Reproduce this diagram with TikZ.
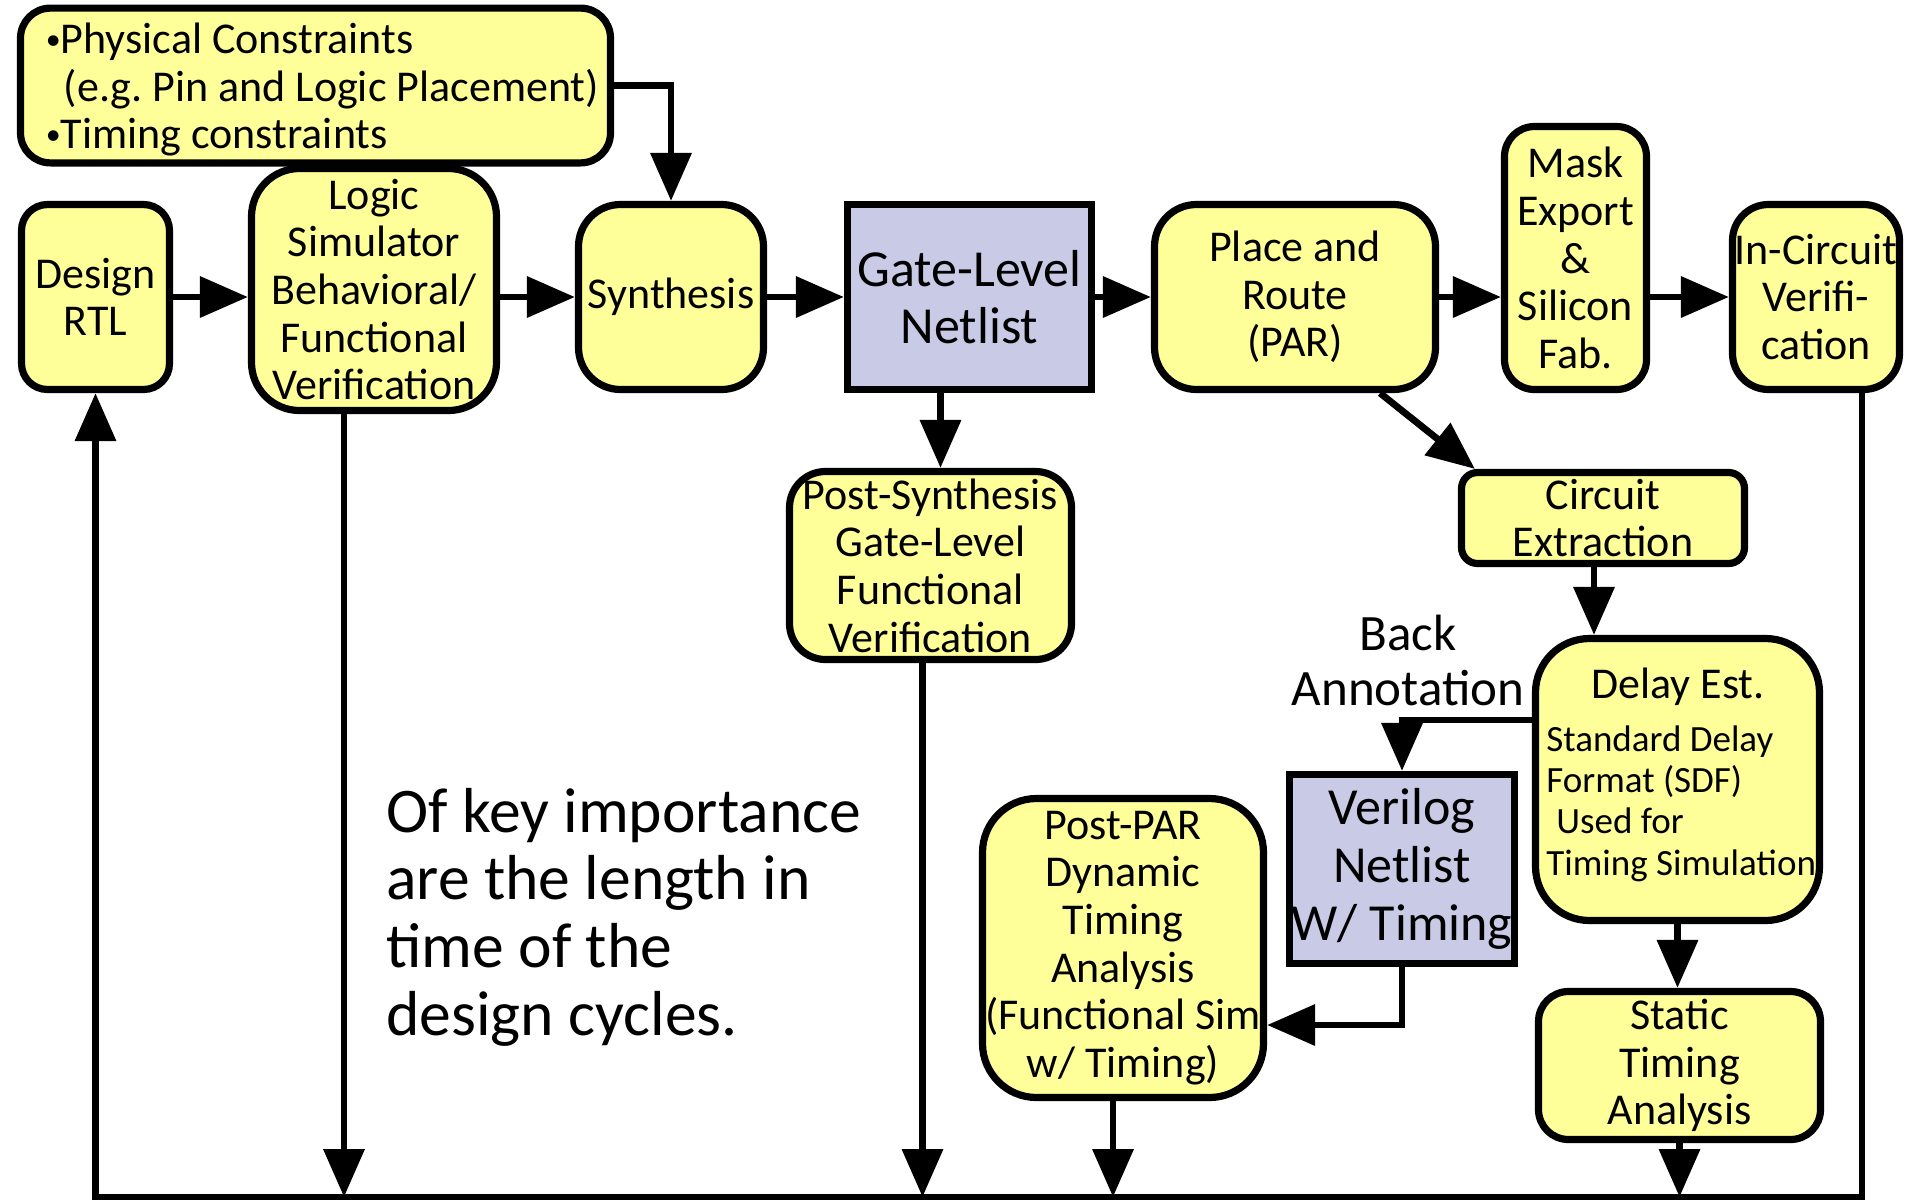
\documentclass[tikz,border=0pt]{standalone}
\usepackage{fontspec}
\setmainfont{Carlito}
\usetikzlibrary{arrows.meta,calc}
\definecolor{boxyellow}{RGB}{255,255,153}
\definecolor{netpurple}{RGB}{200,202,230}
\newcommand{\smallbullet}{\raisebox{2pt}{\fontsize{15}{15}\selectfont•}}
\begin{document}
\begin{tikzpicture}[x=0.5pt,y=-0.5pt,
  flowbox/.style={draw=black, line width=3.6pt, fill=boxyellow, inner sep=0pt,
    align=center, font=\fontsize{22}{23.8}\selectfont},
  netbox/.style={flowbox, fill=netpurple, font=\fontsize{26}{28.8}\selectfont},
  flow/.style={line width=3.4pt, -{Triangle[length=24pt,width=20pt]}},
]
\useasboundingbox (0,0) rectangle (1907,1200);

% ---- process boxes ----
\node[flowbox, rounded corners=15pt, minimum width=295pt, minimum height=73pt]
  (cons) at (315.5,85.5)
  {\hspace*{7pt}\raisebox{0pt}[\dimexpr\height+6pt\relax][\depth]{\begin{tabular}{@{}l@{}}\smallbullet Physical Constraints\\\hspace{9pt}(e.g.\ Pin and Logic Placement)\\\smallbullet Timing constraints\end{tabular}}};
\node[flowbox, rounded corners=13pt, minimum width=74pt, minimum height=92.5pt]
  (design) at (95.5,297) {Design\\RTL};
\node[flowbox, rounded corners=24pt, minimum width=122.5pt, minimum height=121pt]
  (logic) at (374,289.5) {Logic\\Simulator\\Behavioral/\\Functional\\Verification};
\node[flowbox, rounded corners=21pt, minimum width=92.5pt, minimum height=92.5pt]
  (synth) at (671,297) {Synthesis};
\node[netbox, minimum width=122pt, minimum height=92.5pt]
  (gate) at (969.5,297) {Gate-Level\\Netlist};
\node[flowbox, rounded corners=21pt, minimum width=140.5pt, minimum height=92.5pt]
  (par) at (1295,297) {Place and\\Route\\(PAR)};
\node[flowbox, rounded corners=15pt, minimum width=71pt, minimum height=131.5pt]
  (mask) at (1575.5,258) {Mask\\Export\\\&\\Silicon\\Fab.};
\node[flowbox, rounded corners=18pt, minimum width=83.5pt, minimum height=92.5pt]
  (inc) at (1816,297) {In-Circuit\\Verifi-\\cation};
\node[flowbox, rounded corners=18pt, minimum width=141pt, minimum height=94pt]
  (postsyn) at (930.5,565.5) {Post-Synthesis\\Gate-Level\\Functional\\Verification};
\node[flowbox, rounded corners=8pt, minimum width=141.5pt, minimum height=45.5pt]
  (cext) at (1603,518) {Circuit\\Extraction};
\node[flowbox, rounded corners=27pt, minimum width=142pt, minimum height=141pt]
  (delay) at (1677.5,779.5) {};
\node[netbox, minimum width=112.5pt, minimum height=94.5pt]
  (verilog) at (1402,869) {Verilog\\Netlist\\W/ Timing};
\node[flowbox, rounded corners=27pt, minimum width=140.5pt, minimum height=149.5pt]
  (postpar) at (1123,948) {Post-PAR\\Dynamic\\Timing\\Analysis\\(Functional Sim\\w/ Timing)};
\node[flowbox, rounded corners=15pt, minimum width=141pt, minimum height=74pt]
  (static) at (1679.5,1065.5) {Static\\Timing\\Analysis};

% ---- text inside the delay estimation box ----
\node[inner sep=0pt, font=\fontsize{22}{23.8}\selectfont]
  (delayhead) at (1678,687) {Delay Est.};
\node[anchor=north west, align=left, inner sep=0pt, font=\fontsize{18.5}{20.7}\selectfont]
  (sdf) at (1546,725) {Standard Delay\\Format (SDF)\\\hspace{5pt}Used for\\Timing Simulation};

% ---- free labels ----
\node[align=center, inner sep=0pt, font=\fontsize{25.5}{27.5}\selectfont]
  (backann) at (1408,660) {Back\\Annotation};
\node[anchor=west, align=left, inner sep=0pt, font=\fontsize{31.8}{33.8}\selectfont]
  (note) at (386,917) {Of key importance\\are the length in\\time of the\\design cycles.};

% ---- main flow ----
\draw[flow] (cons.east) -| (synth.north);
\draw[flow] (design.east) -- (design.east -| logic.west);
\draw[flow] (synth.west -| logic.east) -- (synth.west);
\draw[flow] (synth.east) -- (gate.west);
\draw[flow] (gate.east) -- (par.west);
\draw[flow] (par.east) -- (par.east -| mask.west);
\draw[flow] (mask.east |- inc.west) -- (inc.west);

\path ([xshift=5pt]gate.south -| postsyn.north) coordinate (gs);
\draw[flow] (gs) -- (gs |- postsyn.north);

\draw[flow] ([xshift=-29.5pt]par.south east) -- ([xshift=8.5pt]cext.north west);

\path ([xshift=-4.5pt]cext.south) coordinate (cs);
\draw[flow] (cs) -- (cs |- delay.north);

\draw[flow] ([yshift=29.75pt]delay.west) -| (verilog.north);
\draw[flow] (verilog.south) |- (verilog.south |- 0,1025) -- (postpar.east |- 0,1025);
\draw[flow] (delay.south) -- (delay.south |- static.north);

% ---- return paths to the design loop ----
\coordinate (base) at (0,1197);
\path ([xshift=-15pt]logic.south) coordinate (ls);
\draw[flow] (ls) -- (ls |- base);
\path ([xshift=-4pt]postsyn.south) coordinate (ps);
\draw[flow] (ps) -- (ps |- base);
\path ([xshift=-5pt]postpar.south) coordinate (pp);
\draw[flow] (pp) -- (pp |- base);
\draw[flow] (static.south) -- (static.south |- base);
\path ([xshift=23pt]inc.south) coordinate (is);
\draw[flow] (is) |- (design.south |- base) -- (design.south);
\end{tikzpicture}
\end{document}
